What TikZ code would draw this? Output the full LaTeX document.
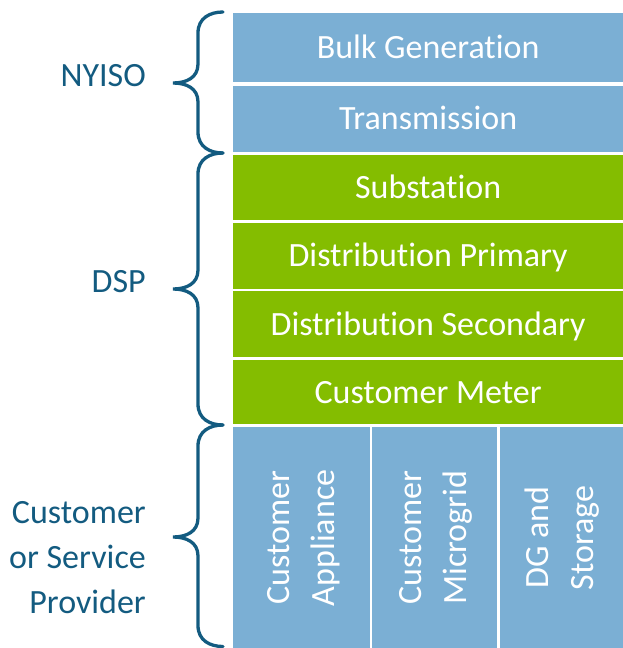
\documentclass[tikz,border=0pt]{standalone}
\usepackage{fontspec}
\setmainfont[Ligatures={NoCommon,NoContextual}]{Carlito}
\definecolor{boxblue}{HTML}{7BAFD4}
\definecolor{boxgreen}{HTML}{84BD00}
\definecolor{labelteal}{HTML}{135B80}
\newcommand\drawbrace[3]{%
  \draw[bracestyle] (223,#1) .. controls (210,#1) and (198,#1+6) .. (198,#1+21)
    -- (198,#2-19) .. controls (198,#2-5) and (186,#2) .. (173,#2)
    .. controls (186,#2) and (198,#2+5) .. (198,#2+19)
    -- (198,#3-21) .. controls (198,#3-6) and (210,#3) .. (223,#3);}
\begin{document}
\begin{tikzpicture}[x=1pt,y=-1pt,
  layer/.style={minimum width=389.7pt, inner sep=0pt, text=white,
    text height=22pt, text depth=0pt, font=\fontsize{34}{41}\selectfont},
  bluelayer/.style={layer, fill=boxblue},
  greenlayer/.style={layer, fill=boxgreen},
  column/.style={fill=boxblue, inner sep=0pt, minimum height=221pt},
  coltext/.style={rotate=90, align=center, text=white, inner sep=0pt,
    font=\fontsize{34}{45}\selectfont},
  sidelabel/.style={anchor=east, align=right, inner sep=0pt, text=labelteal,
    font=\fontsize{34}{45}\selectfont},
  bracestyle/.style={draw=labelteal, line width=3.3pt, line cap=round}]
\useasboundingbox (0,0) rectangle (623,648);

\node[bluelayer, minimum height=69pt] (bulk) at (428.15,47.8) {Bulk Generation};
\node[bluelayer, minimum height=66pt] (trans) at (428.15,118.7) {Transmission};
\node[greenlayer, minimum height=65pt] (sub) at (428.15,187) {Substation};
\node[greenlayer, minimum height=66pt] (prim) at (428.15,255.5) {Distribution Primary};
\node[greenlayer, minimum height=66pt] (sec) at (428.15,324) {Distribution Secondary};
\node[greenlayer, minimum height=64pt] (meter) at (428.15,392) {Customer Meter};

\node[column, minimum width=136.7pt] (col1) at (301.65,537.8) {};
\node[column, minimum width=125.3pt] (col2) at (434.65,537.8) {};
\node[column, minimum width=123pt] (col3) at (561.5,537.8) {};

\node[coltext] (t1) at ([xshift=2pt]col1.center) {Customer\\Appliance};
\node[coltext] (t2) at ([xshift=1pt]col2.center) {Customer\\Microgrid};
\node[coltext] (t3) at ([xshift=1pt]col3.center) {DG and\\Storage};

\node[sidelabel] (nyiso) at (146,75.5) {NYISO};
\node[sidelabel] (dsp) at (146,282) {DSP};
\node[sidelabel] (cust) at (146,557.5) {Customer\\or Service\\Provider};

\drawbrace{12}{83}{153}
\drawbrace{153}{289}{425}
\drawbrace{425}{537}{646.5}
\end{tikzpicture}
\end{document}
